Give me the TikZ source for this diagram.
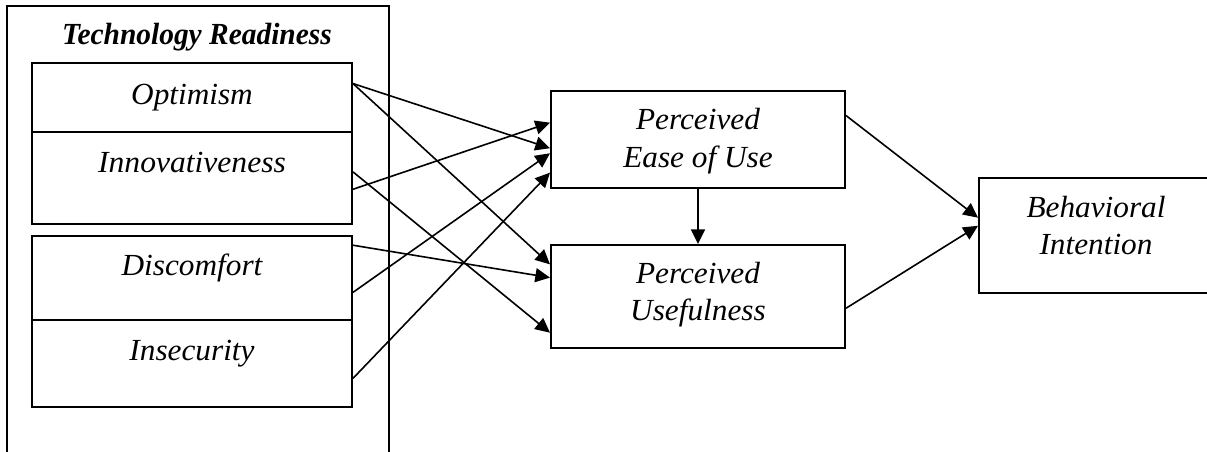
\documentclass[tikz,border=0pt]{standalone}
\usepackage{fontspec}
\usepackage{graphicx}
\setmainfont{Liberation Serif}
\usetikzlibrary{arrows.meta,calc}
\begin{document}
\begin{tikzpicture}[x=0.75pt,y=-0.75pt,
  box/.style={draw=black,line width=1.5pt,rectangle,inner sep=0pt},
  txt/.style={inner sep=0pt,anchor=base,font=\fontsize{23}{28}\selectfont\itshape},
  conn/.style={line width=1.2pt,-{Triangle[length=11pt,width=10.5pt]}}]
\useasboundingbox (0,0) rectangle (1207,452);
% outer container
\node[box,minimum width=382*0.75pt,minimum height=468*0.75pt] (tr) at (198,240) {};
\node[txt,font=\fontsize{23}{28}\selectfont\bfseries\itshape] (trt) at (197,45) {\scalebox{0.96}[1]{Technology Readiness}};
% dimension boxes
\node[box,minimum width=320*0.75pt,minimum height=69*0.75pt] (opt) at (192,97.5) {};
\node[box,minimum width=320*0.75pt,minimum height=92*0.75pt] (inn) at (192,178) {};
\node[box,minimum width=320*0.75pt,minimum height=84*0.75pt] (dis) at (192,278) {};
\node[box,minimum width=320*0.75pt,minimum height=87*0.75pt] (ins) at (192,363.5) {};
\node[txt] (optt) at (192,105) {\scalebox{1.02}[1]{Optimism}};
\node[txt] (innt) at (192,173) {\scalebox{1.03}[1]{Innovativeness}};
\node[txt] (dist) at (192,276) {\scalebox{1.02}[1]{Discomfort}};
\node[txt] (inst) at (192,360) {\scalebox{1.02}[1]{Insecurity}};
% TAM boxes
\node[box,minimum width=294*0.75pt,minimum height=97*0.75pt] (peu) at (698,139.5) {};
\node[box,minimum width=294*0.75pt,minimum height=103*0.75pt] (pu) at (698,296.5) {};
\node[box,minimum width=234*0.75pt,minimum height=115*0.75pt] (bi) at (1096,235.5) {};
\node[txt] (peut1) at (698,130) {\scalebox{1.02}[1]{Perceived}};
\node[txt] (peut2) at (698,168) {\scalebox{1.02}[1]{Ease of Use}};
\node[txt] (put1) at (698,284) {\scalebox{1.02}[1]{Perceived}};
\node[txt] (put2) at (698,321) {\scalebox{1.02}[1]{Usefulness}};
\node[txt] (bit1) at (1096,218) {\scalebox{1.02}[1]{Behavioral}};
\node[txt] (bit2) at (1096,255) {\scalebox{1.02}[1]{Intention}};
% connectors
\draw[conn] ($(opt.north east)!0.304!(opt.south east)$) -- ($(peu.north west)!0.588!(peu.south west)$);
\draw[conn] ($(opt.north east)!0.304!(opt.south east)$) -- ($(pu.north west)!0.194!(pu.south west)$);
\draw[conn] ($(inn.north east)!0.62!(inn.south east)$) -- ($(peu.north west)!0.33!(peu.south west)$);
\draw[conn] ($(inn.north east)!0.435!(inn.south east)$) -- ($(pu.north west)!0.845!(pu.south west)$);
\draw[conn] ($(dis.north east)!0.119!(dis.south east)$) -- ($(pu.north west)!0.32!(pu.south west)$);
\draw[conn] ($(dis.north east)!0.667!(dis.south east)$) -- ($(peu.north west)!0.639!(peu.south west)$);
\draw[conn] ($(ins.north east)!0.667!(ins.south east)$) -- ($(peu.north west)!0.835!(peu.south west)$);
\draw[conn] (peu.south) -- (pu.north);
\draw[conn] ($(peu.north east)!0.258!(peu.south east)$) -- ($(bi.north west)!0.348!(bi.south west)$);
\draw[conn] ($(pu.north east)!0.612!(pu.south east)$) -- ($(bi.north west)!0.417!(bi.south west)$);
\end{tikzpicture}
\end{document}
